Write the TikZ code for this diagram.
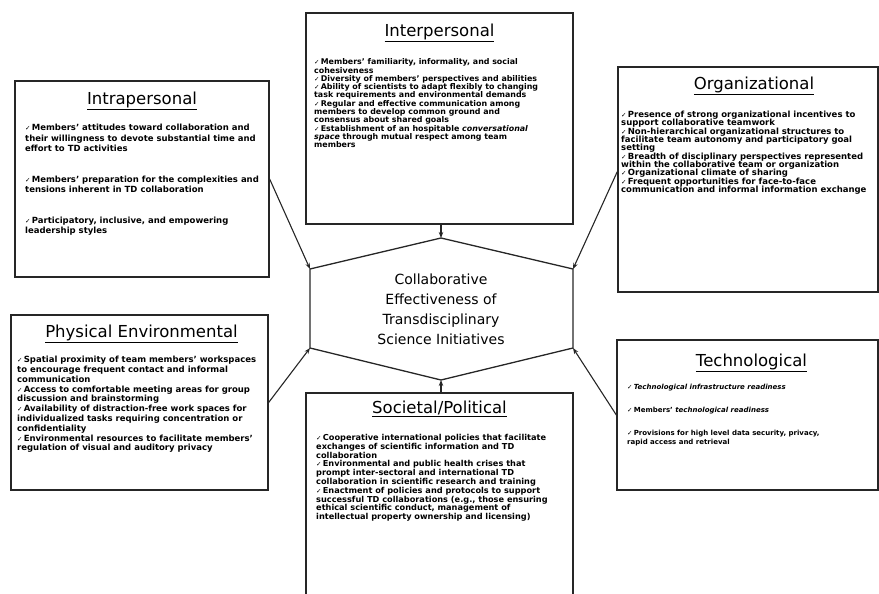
\documentclass[tikz,border=0pt]{standalone}
\usepackage{fontspec}
\setmainfont{DejaVu Sans}
\usetikzlibrary{arrows.meta,positioning}

\newcommand{\chk}{{\mdseries\fontsize{6.5}{6.5}\selectfont ✓}\hspace{1.2pt}}

\tikzset{
  box/.style={draw=black!85, line width=1.3pt, rectangle, inner sep=0pt},
  boxtitle/.style={inner sep=0pt, font=\fontsize{16.5}{18}\selectfont},
  body/.style={anchor=north west, inner sep=0pt, align=left},
  link/.style={line width=1.1pt, draw=black!85, -{Stealth[length=6pt,width=4.5pt]}}
}

\begin{document}
\begin{tikzpicture}[x=1pt,y=-1pt]
  \useasboundingbox (0,0) rectangle (879,594);
  \clip (0,0) rectangle (879,594);

  % the six boxes
  \node(intra)[box, minimum width=254, minimum height=196] at (142,179) {};
  \node(inter)[box, minimum width=267, minimum height=211] at (439.5,118.5) {};
  \node(org)[box, minimum width=260, minimum height=225] at (748,179.5) {};
  \node(phys)[box, minimum width=257, minimum height=175] at (139.5,402.5) {};
  \node(soc)[box, minimum width=267, minimum height=227] at (439.5,506.5) {};
  \node(tech)[box, minimum width=261, minimum height=150] at (747.5,415) {};

  % titles
  \node(intraT)[boxtitle] at (142,101) {\underline{Intrapersonal}};
  \node(interT)[boxtitle] at (439.5,33) {\underline{Interpersonal}};
  \node(orgT)[boxtitle] at (754,86) {\underline{Organizational}};
  \node(physT)[boxtitle] at (141.5,334) {\underline{Physical Environmental}};
  \node(socT)[boxtitle] at (439.5,409) {\underline{Societal/Political}};
  \node(techT)[boxtitle] at (751.5,363) {\underline{Technological}};

  % lists
  \node(intraB)[body, font=\fontsize{8.5}{10.5}\selectfont\bfseries] at (25,124) {%
    \chk Members' attitudes toward collaboration and\\
    their willingness to devote substantial time and\\
    effort to TD activities\\[20pt]
    \chk Members' preparation for the complexities and\\
    tensions inherent in TD collaboration\\[20pt]
    \chk Participatory, inclusive, and empowering\\
    leadership styles};

  \node(interB)[body, font=\fontsize{7.9}{8.3}\selectfont\bfseries] at (314,58.5) {%
    \chk Members' familiarity, informality, and social\\
    cohesiveness\\
    \chk Diversity of members' perspectives and abilities\\
    \chk Ability of scientists to adapt flexibly to changing\\
    task requirements and environmental demands\\
    \chk Regular and effective communication among\\
    members to develop common ground and\\
    consensus about shared goals\\
    \chk Establishment of an hospitable \textit{conversational}\\
    \textit{space} through mutual respect among team\\
    members};

  \node(orgB)[body, font=\fontsize{8.5}{8.3}\selectfont\bfseries] at (621,111) {%
    \chk Presence of strong organizational incentives to\\
    support collaborative teamwork\\
    \chk Non-hierarchical organizational structures to\\
    facilitate team autonomy and participatory goal\\
    setting\\
    \chk Breadth of disciplinary perspectives represented\\
    within the collaborative team or organization\\
    \chk Organizational climate of sharing\\
    \chk Frequent opportunities for face-to-face\\
    communication and informal information exchange};

  \node(physB)[body, font=\fontsize{8.5}{9.8}\selectfont\bfseries] at (17,356) {%
    \chk Spatial proximity of team members' workspaces\\
    to encourage frequent contact and informal\\
    communication\\
    \chk Access to comfortable meeting areas for group\\
    discussion and brainstorming\\
    \chk Availability of distraction-free work spaces for\\
    individualized tasks requiring concentration or\\
    confidentiality\\
    \chk Environmental resources to facilitate members'\\
    regulation of visual and auditory privacy};

  \node(socB)[body, font=\fontsize{8.2}{8.8}\selectfont\bfseries] at (316,434) {%
    \chk Cooperative international policies that facilitate\\
    exchanges of scientific information and TD\\
    collaboration\\
    \chk Environmental and public health crises that\\
    prompt inter-sectoral and international TD\\
    collaboration in scientific research and training\\
    \chk Enactment of policies and protocols to support\\
    successful TD collaborations (e.g., those ensuring\\
    ethical scientific conduct, management of\\
    intellectual property ownership and licensing)};

  \node(techB)[body, font=\fontsize{7}{9}\selectfont\bfseries] at (627,384) {%
    \chk \textit{Technological infrastructure readiness}\\[14pt]
    \chk Members' \textit{technological readiness}\\[14pt]
    \chk Provisions for high level data security, privacy,\\
    rapid access and retrieval};

  % centre hexagon
  \coordinate(hT) at (441,238);
  \coordinate(hUR) at (573,269);
  \coordinate(hLR) at (573,348);
  \coordinate(hB) at (441,380);
  \coordinate(hLL) at (310,348);
  \coordinate(hUL) at (310,269);
  \draw[line width=1.3pt, black!85] (hT) -- (hUR) -- (hLR) -- (hB) -- (hLL) -- (hUL) -- cycle;
  \node(core)[align=center, font=\fontsize{14}{20}\selectfont] at (441,309)
    {Collaborative\\Effectiveness of\\Transdisciplinary\\Science Initiatives};

  % connectors
  \draw[link] (intra.east) -- (hUL);
  \draw[link] (hT |- inter.south) -- (hT);
  \draw[link] ([yshift=8pt]org.west) -- (hUR);
  \draw[link] (phys.east) -- (hLL);
  \draw[link] (tech.west) -- (hLR);
  \draw[link] (hB |- soc.north) -- (hB);
\end{tikzpicture}
\end{document}
